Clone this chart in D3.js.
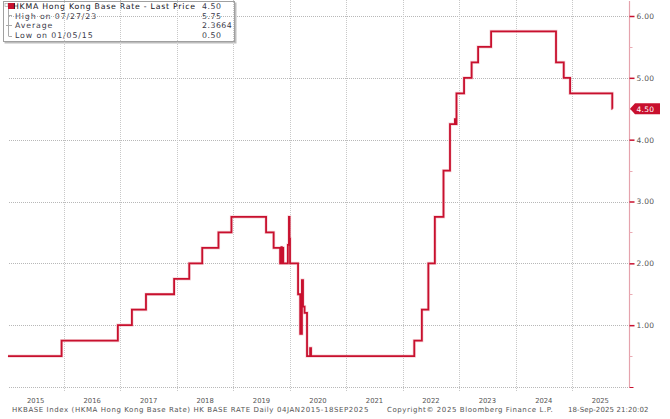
<!DOCTYPE html>
<html>
<head>
<meta charset="utf-8">
<script src="https://cdn.jsdelivr.net/npm/d3@7"></script>
<style>
  body { margin: 0; background: #fff; }
  svg { display: block; font-family: "DejaVu Sans", Verdana, sans-serif; }
</style>
</head>
<body>
<div id="container"></div>
<script>
// HKMA base rate, step series (date the level starts, level)
var rateDates = [
  "2015-01-04", "2015-12-17", "2016-12-15", "2017-03-16", "2017-06-15",
  "2017-12-14", "2018-03-22", "2018-06-14", "2018-09-27", "2018-12-20",
  "2019-08-01", "2019-09-19", "2019-10-31", "2019-11-08", "2019-11-11",
  "2019-11-18", "2019-11-20", "2019-12-20", "2019-12-27", "2019-12-31",
  "2020-01-03", "2020-02-24", "2020-03-09", "2020-03-20", "2020-03-27",
  "2020-04-06", "2020-04-22", "2020-05-12", "2020-05-18", "2022-03-17",
  "2022-05-05", "2022-06-16", "2022-07-28", "2022-09-22", "2022-11-03",
  "2022-12-05", "2022-12-09", "2022-12-15", "2023-02-02", "2023-03-23",
  "2023-05-04", "2023-07-27", "2024-09-19", "2024-11-08", "2024-12-19",
  "2025-09-18", "2025-09-19"
];
var rateValues = [
  0.50, 0.75, 1.00, 1.25, 1.50,
  1.75, 2.00, 2.25, 2.50, 2.75,
  2.50, 2.25, 2.00, 2.26, 2.00,
  2.25, 2.00, 2.30, 2.75, 2.40,
  2.00, 1.50, 0.86, 1.73, 1.30,
  1.20, 0.50, 0.63, 0.50, 0.75,
  1.25, 2.00, 2.75, 3.50, 4.25,
  4.33, 4.25, 4.75, 5.00, 5.25,
  5.50, 5.75, 5.25, 5.00, 4.75,
  4.50, 4.50
];

var yTicks = [1, 2, 3, 4, 5, 6];
var yMinorTicks = [0.5, 1.5, 2.5, 3.5, 4.5, 5.5];
var years = [2015, 2016, 2017, 2018, 2019, 2020, 2021, 2022, 2023, 2024, 2025];

var legendLabels = ["HKMA Hong Kong Base Rate - Last Price", "High on 07/27/23", "Average", "Low on 01/05/15"];
var legendValues = ["4.50", "5.75", "2.3664", "0.50"];
var lastPrice = 4.50;

var footerLeft = "HKBASE Index (HKMA Hong Kong Base Rate) HK BASE RATE  Daily 04JAN2015-18SEP2025";
var footerMid = "Copyright\u00A9 2025 Bloomberg Finance L.P.";
var footerRight = "18-Sep-2025 21:20:02";

var width = 670, height = 419;
var plotLeft = 7.5, plotRight = 628.5, plotBottom = 387;

var parse = d3.timeParse("%Y-%m-%d");
var data = rateDates.map(function(d, i) { return {date: parse(d), value: rateValues[i]}; });

var svg = d3.select("#container").append("svg")
    .attr("width", width)
    .attr("height", height);

var x = d3.scaleTime()
    .domain([new Date(2015, 0, 1), new Date(2026, 0, 1)])
    .range([plotLeft, plotRight]);

var y = d3.scaleLinear()
    .domain([0, 6])
    .range([plotBottom, 16]);

// legend box (drawn first so the grid shows through it)
var legend = svg.append("g").attr("transform", "translate(3,1)");
legend.append("rect")
    .attr("x", 1.5).attr("y", 1.5)
    .attr("width", 232).attr("height", 41)
    .style("fill", "#bdbdbd");
legend.append("rect")
    .attr("x", 0.5).attr("y", 0.5)
    .attr("width", 231).attr("height", 40)
    .style("fill", "#fff")
    .style("stroke", "#a0a0a0");

// grid
var grid = svg.append("g").attr("class", "grid");
grid.selectAll("line.h")
    .data([0].concat(yTicks))
    .enter().append("line")
      .attr("class", "h")
      .attr("x1", 9).attr("x2", plotRight)
      .attr("y1", function(d) { return Math.round(y(d)) + 0.5; })
      .attr("y2", function(d) { return Math.round(y(d)) + 0.5; })
      .style("stroke", "#b8b8b8")
      .style("stroke-dasharray", "1,1");

grid.selectAll("line.v")
    .data(years.slice(1))
    .enter().append("line")
      .attr("class", "v")
      .attr("x1", function(d) { return Math.round(x(new Date(d, 0, 1))) + 0.5; })
      .attr("x2", function(d) { return Math.round(x(new Date(d, 0, 1))) + 0.5; })
      .attr("y1", 0).attr("y2", 392)
      .style("stroke", "#c8c8c8")
      .style("stroke-dasharray", "1,1");

// legend content
legend.append("path")
    .attr("d", "M5.5,8 V35 M5.5,14.5 H9 M3,24.5 H9 M5.5,35.5 H9")
    .style("stroke", "#aaa")
    .style("fill", "none");
legend.append("rect")
    .attr("x", 2).attr("y", 2.5)
    .attr("width", 3).attr("height", 3)
    .style("fill", "none")
    .style("stroke", "#aaa")
    .style("stroke-width", 0.7);
legend.append("rect")
    .attr("x", 5).attr("y", 2)
    .attr("width", 7).attr("height", 6)
    .style("fill", "#c8102e");

var rows = legend.selectAll("g.row")
    .data(legendLabels)
    .enter().append("g")
      .attr("class", "row")
      .attr("transform", function(d, i) { return "translate(0," + (8 + i * 9.7) + ")"; });
rows.append("text")
    .attr("x", function(d, i) { return i === 0 ? 10 : 12; })
    .attr("textLength", function(d, i) { return i === 0 ? 182 : null; })
    .attr("lengthAdjust", "spacing")
    .style("font-size", "7.8px")
    .style("letter-spacing", function(d, i) { return i === 0 ? null : "0.9px"; })
    .style("fill", function(d, i) { return i === 0 ? "#111122" : "#3a3a4a"; })
    .text(function(d) { return d; });
rows.append("text")
    .attr("x", 199)
    .style("font-size", "7.8px")
    .style("letter-spacing", "0.5px")
    .style("fill", "#3a3a4a")
    .text(function(d, i) { return legendValues[i]; });

// line
var line = d3.line()
    .x(function(d) { return x(d.date); })
    .y(function(d) { return y(d.value); })
    .curve(d3.curveStepAfter);

svg.append("path")
    .datum(data)
    .attr("d", line)
    .style("fill", "none")
    .style("stroke", "#f0b8c0")
    .style("stroke-width", 3.2)
    .style("opacity", 0.6);

svg.append("path")
    .datum(data)
    .attr("d", line)
    .style("fill", "none")
    .style("stroke", "#c8102e")
    .style("stroke-width", 1.8);

// right axis
var axisX = 629.5;
svg.append("line")
    .attr("x1", axisX).attr("x2", axisX)
    .attr("y1", 1).attr("y2", plotBottom + 0.5)
    .style("stroke", "#e5a3ad")
    .style("stroke-width", 1.2);
svg.append("line")
    .attr("x1", axisX).attr("x2", axisX + 4)
    .attr("y1", plotBottom + 0.5).attr("y2", plotBottom + 0.5)
    .style("stroke", "#c8102e");

var yAxis = d3.axisRight(y)
    .tickValues(yTicks)
    .tickSize(5)
    .tickPadding(2)
    .tickFormat(d3.format(".2f"));
var yAxisG = svg.append("g")
    .attr("transform", "translate(" + axisX + ",0)")
    .call(yAxis);
yAxisG.select(".domain").remove();
yAxisG.selectAll(".tick line").style("stroke", "#c8102e").style("stroke-width", 1.5);
yAxisG.selectAll(".tick text")
    .style("font-size", "7.5px")
    .style("letter-spacing", "0.3px")
    .style("fill", "#555")
    .style("font-family", "DejaVu Sans, sans-serif");

svg.append("g").selectAll("line")
    .data(yMinorTicks)
    .enter().append("line")
      .attr("x1", axisX).attr("x2", axisX + 3)
      .attr("y1", function(d) { return Math.round(y(d)) + 0.5; })
      .attr("y2", function(d) { return Math.round(y(d)) + 0.5; })
      .style("stroke", "#eaaab3");

// last price tag
var tagY = y(lastPrice);
var tag = svg.append("g").attr("transform", "translate(" + (axisX + 0.5) + "," + tagY + ")");
tag.append("path")
    .attr("d", "M0,0 L5,-5.5 L30,-5.5 L30,5.5 L5,5.5 Z")
    .style("fill", "#c8102e");
tag.append("text")
    .attr("x", 6.5).attr("y", 3)
    .style("font-size", "7.5px")
    .style("letter-spacing", "0.3px")
    .style("fill", "#fff")
    .text(d3.format(".2f")(lastPrice));

// year labels, centred in the visible part of each year
svg.append("g").selectAll("text")
    .data(years)
    .enter().append("text")
      .attr("x", function(d) {
        var a = Math.max(0, x(new Date(d, 0, 1))), b = x(new Date(d + 1, 0, 1));
        return (a + b) / 2;
      })
      .attr("y", 403)
      .attr("text-anchor", "middle")
      .style("font-size", "6.8px")
      .style("fill", "#555")
      .text(function(d) { return d; });

// footer
var footer = svg.append("g")
    .style("font-size", "7px")
    .style("fill", "#555");
footer.append("text").attr("x", 12).attr("y", 412).style("letter-spacing", "0.58px").text(footerLeft);
footer.append("text").attr("x", 387).attr("y", 412).style("letter-spacing", "0.58px").text(footerMid);
footer.append("text").attr("x", 568).attr("y", 412).style("letter-spacing", "0.1px").text(footerRight);
</script>
</body>
</html>
